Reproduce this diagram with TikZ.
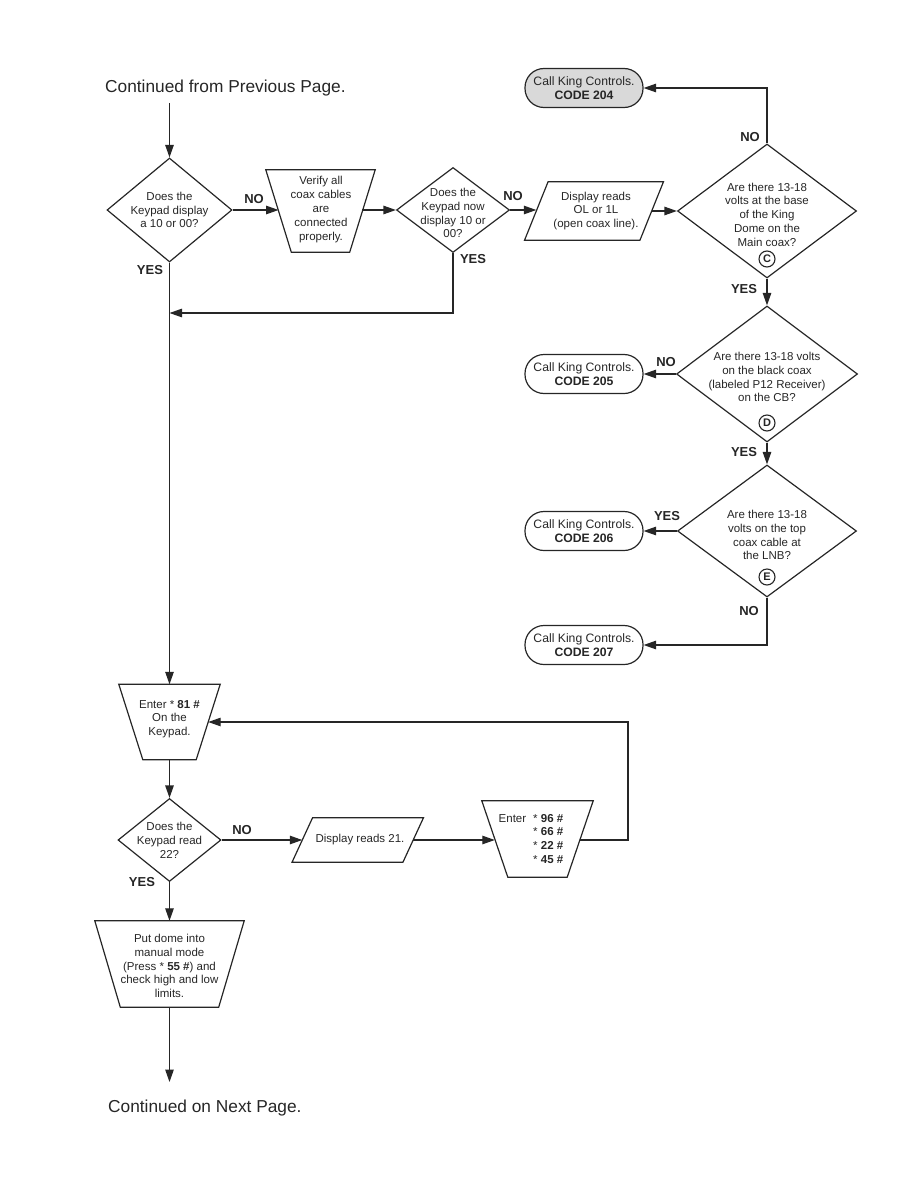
\documentclass[tikz,border=0pt]{standalone}
\usepackage{fontspec}
\setmainfont{Liberation Sans}
\usetikzlibrary{shapes.geometric,shapes.misc,arrows.meta}
\begin{document}
\begin{tikzpicture}[x=1pt,y=-1pt,
  every node/.style={font=\fontsize{11.5}{13.8}\selectfont, text=black!85},
  line/.style={line width=1.2pt, draw=black!85},
  arr/.style={line, -{Triangle[length=12.5pt,width=8.5pt]}},
  dia/.style={diamond, draw=black!85, line width=1.2pt, inner sep=0pt},
  box/.style={rectangle, inner sep=0pt, draw=none},
  term/.style={rectangle, rounded corners=19pt, draw=black!85, line width=1.2pt, minimum width=118pt, minimum height=39pt, inner sep=0pt, align=center, font=\fontsize{12.2}{13.5}\selectfont},
  txt/.style={align=center, inner sep=0pt},
  lbl/.style={font=\fontsize{13}{15}\selectfont\bfseries, inner sep=0pt},
  circ/.style={circle, draw=black!85, line width=1.1pt, minimum size=16pt, inner sep=0pt, font=\fontsize{11}{12}\selectfont\bfseries},
  ttl/.style={font=\fontsize{17.3}{20}\selectfont, anchor=west, inner sep=0pt}
]
\useasboundingbox (0,0) rectangle (918,1188);
% titles
\node[ttl] (top) at (105,88) {Continued from Previous Page.};
\node[ttl] (bot) at (108,1108) {Continued on Next Page.};
% row 1
\node[dia, minimum width=125pt, minimum height=104pt] (d1) at (169.5,210) {};
\node[txt] (d1t) at (169.5,210) {Does the\\Keypad display\\a 10 or 00?};
\node[box, minimum width=83.5pt, minimum height=82pt] (t1) at (320.5,211) {};
\draw[line] ([xshift=-12.75pt]t1.north west) -- ([xshift=12.75pt]t1.north east) -- ([xshift=-12.75pt]t1.south east) -- ([xshift=12.75pt]t1.south west) -- cycle;
\node[txt] (t1t) at (321,209.5) {Verify all\\coax cables\\are\\connected\\properly.};
\node[dia, minimum width=113pt, minimum height=85pt] (d2) at (453,210) {};
\node[txt] (d2t) at (453,213) {Does the\\Keypad now\\display 10 or\\00?};
\node[box, minimum width=115pt, minimum height=58pt] (p1) at (594,211) {};
\draw[line] ([xshift=11.75pt]p1.north west) -- ([xshift=11.75pt]p1.north east) -- ([xshift=-11.75pt]p1.south east) -- ([xshift=-11.75pt]p1.south west) -- cycle;
\node[txt] (p1t) at (596,211) {Display reads\\OL or 1L\\(open coax line).};
\node[dia, minimum width=179pt, minimum height=134pt] (d3) at (767,211) {};
\node[txt] (d3t) at (767,214.5) {Are there 13-18\\volts at the base\\of the King\\Dome on the\\Main coax?};
\node[circ] (cc) at (767,259) {C};
\node[term, fill=gray!30] (k204) at (584,88) {Call King Controls.\\\textbf{CODE 204}};
% right column
\node[dia, minimum width=181pt, minimum height=136pt] (d4) at (767,374) {};
\node[txt] (d4t) at (767,377) {Are there 13-18 volts\\on the black coax\\(labeled P12 Receiver)\\on the CB?};
\node[circ] (cd) at (767,423) {D};
\node[term] (k205) at (584,374) {Call King Controls.\\\textbf{CODE 205}};
\node[dia, minimum width=179pt, minimum height=132pt] (d5) at (767,531) {};
\node[txt] (d5t) at (767,535) {Are there 13-18\\volts on the top\\coax cable at\\the LNB?};
\node[circ] (ce) at (767,577) {E};
\node[term] (k206) at (584,531) {Call King Controls.\\\textbf{CODE 206}};
\node[term] (k207) at (584,645) {Call King Controls.\\\textbf{CODE 207}};
% lower part
\node[box, minimum width=77pt, minimum height=75pt] (t2) at (169.5,722) {};
\draw[line] ([xshift=-12pt]t2.north west) -- ([xshift=12pt]t2.north east) -- ([xshift=-12pt]t2.south east) -- ([xshift=12pt]t2.south west) -- cycle;
\node[txt] (t2t) at (169.5,719) {Enter * \textbf{81 \#}\\On the\\Keypad.};
\node[dia, minimum width=103pt, minimum height=83pt] (d6) at (169.5,840) {};
\node[txt] (d6t) at (169.5,840.5) {Does the\\Keypad read\\22?};
\node[box, minimum width=110.5pt, minimum height=44pt] (p2) at (357.75,840) {};
\draw[line] ([xshift=10.25pt]p2.north west) -- ([xshift=10.25pt]p2.north east) -- ([xshift=-10.25pt]p2.south east) -- ([xshift=-10.25pt]p2.south west) -- cycle;
\node[txt] (p2t) at (360,840) {Display reads 21.};
\node[box, minimum width=85pt, minimum height=76pt] (t3) at (537.5,839) {};
\draw[line] ([xshift=-13pt]t3.north west) -- ([xshift=13pt]t3.north east) -- ([xshift=-13pt]t3.south east) -- ([xshift=13pt]t3.south west) -- cycle;
\node[txt] (t3t) at (531,840) {\begin{tabular}{@{}l@{\hspace{7pt}}l@{}}Enter & * \textbf{96 \#}\\ & * \textbf{66 \#}\\ & * \textbf{22 \#}\\ & * \textbf{45 \#}\end{tabular}};
\node[box, minimum width=123.5pt, minimum height=86pt] (t4) at (169.5,964) {};
\draw[line] ([xshift=-12.75pt]t4.north west) -- ([xshift=12.75pt]t4.north east) -- ([xshift=-12.75pt]t4.south east) -- ([xshift=12.75pt]t4.south west) -- cycle;
\node[txt] (t4t) at (169.5,966) {Put dome into\\manual mode\\(Press * \textbf{55 \#}) and\\check high and low\\limits.};
% connectors
\coordinate (s1) at (169.5,103);
\draw[arr] (s1) -- (d1);
\draw[arr] (d1.east) -- (d1.east -| t1.west);
\draw[arr] (t1.east |- d2.west) -- (d2.west);
\draw[arr] (d2.east) -- (d2.east -| p1.west);
\draw[arr] (p1.east |- d3.west) -- (d3.west);
\draw[arr] (d3) |- (k204);
\draw[arr] (d3) -- (d4);
\draw[arr] (d4) -- (k205);
\draw[arr] (d4) -- (d5);
\draw[arr] (d5) -- (k206);
\draw[arr] (d5) |- (k207);
\draw[arr] (d1) -- (t2);
\coordinate (m1) at (169.5,313);
\draw[arr] (d2) |- (m1);
\draw[arr] (t2) -- (d6);
\draw[arr] (d6.east) -- (d6.east -| p2.west);
\draw[arr] (p2.east) -- (p2.east -| t3.west);
\coordinate (r1) at (628,840);
\coordinate (r2) at (628,722);
\draw[arr] (t3.east |- r1) -- (r1) -- (r2) -- (t2);
\draw[arr] (d6) -- (t4);
\coordinate (e1) at (169.5,1082);
\draw[arr] (t4) -- (e1);
% labels
\node[lbl] (l1) at (150,270) {YES};
\node[lbl] (l2) at (254,199) {NO};
\node[lbl] (l3) at (513,196) {NO};
\node[lbl] (l4) at (473,259) {YES};
\node[lbl] (l5) at (750,137) {NO};
\node[lbl] (l6) at (744,289) {YES};
\node[lbl] (l7) at (666,362) {NO};
\node[lbl] (l8) at (744,452) {YES};
\node[lbl] (l9) at (667,516) {YES};
\node[lbl] (l10) at (749,611) {NO};
\node[lbl] (l11) at (242,830) {NO};
\node[lbl] (l12) at (142,882) {YES};
\end{tikzpicture}
\end{document}
